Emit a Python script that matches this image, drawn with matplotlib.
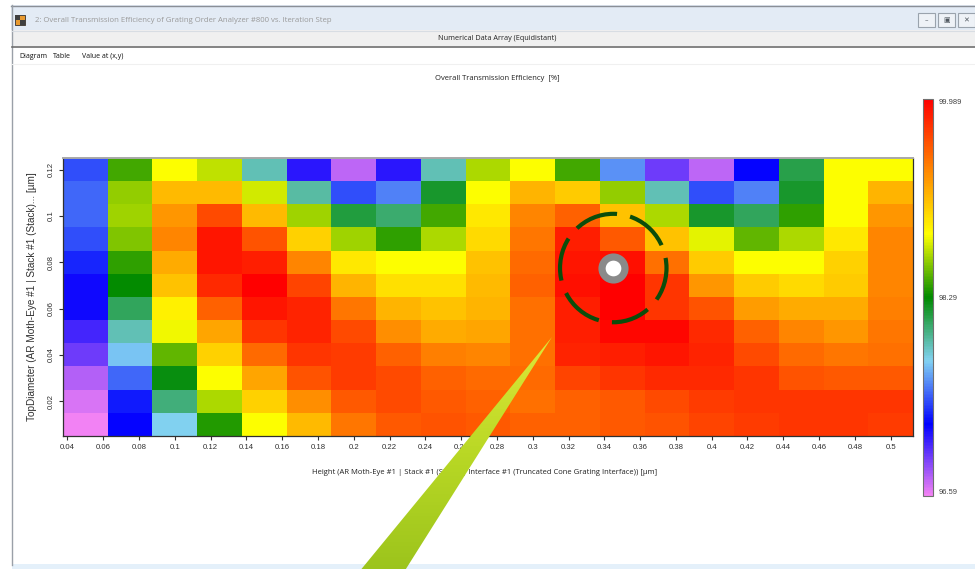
#!/usr/bin/env python3

import numpy as np
import matplotlib
matplotlib.use("Agg")
import matplotlib.pyplot as plt
from matplotlib import font_manager
from matplotlib.colors import LinearSegmentedColormap, Normalize
from matplotlib.patches import Rectangle, Polygon, Ellipse


# -------------------------------------------------------
# Data
# -------------------------------------------------------

height_um = [0.05, 0.075, 0.1, 0.125, 0.15, 0.175, 0.2, 0.225, 0.25, 0.275,
             0.3, 0.325, 0.35, 0.375, 0.4, 0.425, 0.45, 0.475, 0.5]

top_diameter_um = [0.12, 0.11, 0.10, 0.09, 0.08, 0.07,
                   0.06, 0.05, 0.04, 0.03, 0.02, 0.01]

# overall transmission efficiency [%], one row per top diameter (top -> bottom)
efficiency = [
    [97.41, 98.43, 98.83, 98.70, 97.88, 97.10, 96.73, 97.10, 97.88, 98.66, 98.83, 98.43, 97.58, 96.93, 96.73, 97.20, 98.12, 98.83, 98.83],
    [97.47, 98.60, 99.14, 99.14, 98.73, 97.92, 97.41, 97.54, 98.19, 98.83, 99.17, 99.07, 98.60, 97.88, 97.41, 97.54, 98.19, 98.83, 99.17],
    [97.47, 98.63, 99.31, 99.65, 99.14, 98.63, 98.15, 98.05, 98.43, 98.94, 99.38, 99.55, 99.11, 98.66, 98.19, 98.09, 98.39, 98.83, 99.31],
    [97.41, 98.56, 99.38, 99.89, 99.61, 99.04, 98.63, 98.39, 98.66, 99.00, 99.45, 99.85, 99.58, 99.11, 98.77, 98.49, 98.66, 98.94, 99.38],
    [97.30, 98.39, 99.21, 99.89, 99.85, 99.38, 98.94, 98.83, 98.83, 99.11, 99.51, 99.89, 99.92, 99.48, 99.07, 98.83, 98.83, 99.04, 99.38],
    [97.17, 98.29, 99.11, 99.79, 99.99, 99.68, 99.17, 98.97, 98.97, 99.14, 99.55, 99.92, 99.99, 99.75, 99.31, 99.07, 99.00, 99.07, 99.38],
    [97.17, 98.09, 98.90, 99.55, 99.89, 99.82, 99.45, 99.17, 99.11, 99.17, 99.48, 99.85, 99.99, 99.75, 99.61, 99.28, 99.21, 99.21, 99.41],
    [97.03, 97.88, 98.80, 99.24, 99.75, 99.82, 99.65, 99.34, 99.21, 99.24, 99.48, 99.85, 99.95, 99.95, 99.79, 99.55, 99.38, 99.31, 99.45],
    [96.93, 97.71, 98.49, 99.04, 99.51, 99.75, 99.72, 99.55, 99.41, 99.38, 99.48, 99.82, 99.85, 99.89, 99.82, 99.65, 99.51, 99.45, 99.48],
    [96.76, 97.47, 98.26, 98.83, 99.24, 99.61, 99.72, 99.65, 99.55, 99.51, 99.51, 99.68, 99.75, 99.79, 99.79, 99.75, 99.61, 99.58, 99.58],
    [96.66, 97.27, 98.02, 98.66, 99.04, 99.34, 99.58, 99.65, 99.58, 99.55, 99.48, 99.55, 99.58, 99.65, 99.72, 99.75, 99.75, 99.75, 99.75],
    [96.59, 97.20, 97.75, 98.36, 98.83, 99.14, 99.45, 99.58, 99.61, 99.58, 99.55, 99.55, 99.58, 99.61, 99.68, 99.72, 99.75, 99.75, 99.72],
]

vmin = 96.59
vmax = 99.989

x_ticks = [0.04, 0.06, 0.08, 0.1, 0.12, 0.14, 0.16, 0.18, 0.2, 0.22, 0.24, 0.26,
           0.28, 0.3, 0.32, 0.34, 0.36, 0.38, 0.4, 0.42, 0.44, 0.46, 0.48, 0.5]
y_ticks = [0.02, 0.04, 0.06, 0.08, 0.1, 0.12]
cbar_ticks = [96.59, 98.29, 99.989]

# highlighted optimum (annotation)
highlight = (0.345, 0.0775)


# -------------------------------------------------------
# Fonts / helpers
# -------------------------------------------------------

names = {f.name for f in font_manager.fontManager.ttflist}
narrow = "Liberation Sans Narrow" if "Liberation Sans Narrow" in names else "Liberation Sans"
ui_font = "Open Sans"

plt.rcParams["font.family"] = ["Liberation Sans", "DejaVu Sans"]

W, H = 975, 569


def fx(px):
    return px / W


def fy(py):
    return 1 - py / H


# colour map taken from the colour bar
cmap = LinearSegmentedColormap.from_list("vl", [
    (0.00, "#f282f4"),
    (0.18, "#0000ff"),
    (0.34, "#82d2f2"),
    (0.50, "#008a00"),
    (0.66, "#ffff00"),
    (0.83, "#ff8000"),
    (1.00, "#ff0000"),
])
norm = Normalize(vmin=vmin, vmax=vmax)


fig = plt.figure(figsize=(W / 100, H / 100), dpi=100)
fig.patch.set_facecolor("white")

# -------------------------------------------------------
# Window chrome
# -------------------------------------------------------

bg = fig.add_axes([0, 0, 1, 1], zorder=0)
bg.set_xlim(0, W)
bg.set_ylim(H, 0)
bg.axis("off")

# title bar
bg.add_patch(Rectangle((11, 5), W - 11, 25, facecolor="#e3ebf5", edgecolor="none"))
bg.plot([11, W], [5.5, 5.5], color="#8a8f96", lw=1)
bg.plot([11.5, 11.5], [5, 565], color="#9aa0a8", lw=1)
bg.add_patch(Rectangle((15, 15), 10, 10, facecolor="#e89a30", edgecolor="#303030", lw=0.6))
bg.add_patch(Rectangle((15, 15), 5, 5, facecolor="#404040", edgecolor="none"))
bg.add_patch(Rectangle((20, 20), 5, 5, facecolor="#404040", edgecolor="none"))
bg.text(35, 20, "2: Overall Transmission Efficiency of Grating Order Analyzer #800 vs. Iteration Step",
        fontsize=5.6, color="#9a9a9a", va="center", family=ui_font)

for bx, glyph in [(918, "\u2013"), (938, "\u25a3"), (958, "\u2715")]:
    bg.add_patch(Rectangle((bx, 13), 17, 14, facecolor="#eef2f7", edgecolor="#9aa3ad", lw=0.8))
    bg.text(bx + 8.5, 20, glyph, fontsize=5, color="#505860", ha="center", va="center",
            family="DejaVu Sans")

# sub header
bg.add_patch(Rectangle((12, 30), W - 12, 16, facecolor="#f0f0f0", edgecolor="none"))
bg.plot([12, W], [30.5, 30.5], color="#d8dde3", lw=0.8)
bg.plot([12, W], [46.5, 46.5], color="#6e6e6e", lw=1.2)
bg.text(497, 38.5, "Numerical Data Array (Equidistant)", fontsize=5.2, color="#202020",
        ha="center", va="center", family=ui_font)

# tabs
bg.text(19, 56, "Diagram", fontsize=5, color="#101010", va="center", family=ui_font)
bg.text(53, 56.5, "Table", fontsize=5, color="#101010", va="center", family=ui_font)
bg.text(82, 56.5, "Value at (x,y)", fontsize=5, color="#101010", va="center", family=ui_font)
bg.plot([12, W], [63.5, 63.5], color="#f0f0f0", lw=0.8)

bg.text(497, 78, "Overall Transmission Efficiency  [%]", fontsize=5.5, color="#202020",
        ha="center", va="center", family=ui_font)

# bottom strip
bg.add_patch(Rectangle((12, 564), W - 12, 6, facecolor="#e4f0fa", edgecolor="none"))


# -------------------------------------------------------
# Heat map
# -------------------------------------------------------

ax_l, ax_r, ax_t, ax_b = 63, 913, 158, 436
ax = fig.add_axes([fx(ax_l), fy(ax_b), (ax_r - ax_l) / W, (ax_b - ax_t) / H], zorder=2)

mesh = ax.pcolormesh(height_um, top_diameter_um, np.array(efficiency),
                     cmap=cmap, norm=norm, shading="nearest")

ax.set_xlim(0.0375, 0.5125)
ax.set_ylim(0.005, 0.125)

ax.set_xticks(x_ticks)
ax.set_xticklabels([f"{v:g}" for v in x_ticks], fontsize=5.6, family=narrow, color="#303030")
ax.set_yticks(y_ticks)
ax.set_yticklabels([f"{v:g}" for v in y_ticks], fontsize=5.6, family=narrow,
                   color="#303030", rotation=90, va="center")
ax.tick_params(axis="both", direction="out", length=3, width=0.8, color="#303030", pad=3)

for side in ["left", "bottom", "right"]:
    ax.spines[side].set_color("#303030")
    ax.spines[side].set_linewidth(0.9)
ax.spines["top"].set_color("#a8a8a8")
ax.spines["top"].set_linewidth(1.4)

ax.set_xlabel("Height (AR Moth-Eye #1 | Stack #1 (Stack) | Interface #1 (Truncated Cone Grating Interface)) [\u00b5m]",
              fontsize=5.5, family=ui_font, color="#202020")
ax.xaxis.set_label_coords(0.4965, -(469 - ax_b) / (ax_b - ax_t))
ax.set_ylabel("TopDiameter (AR Moth-Eye #1 | Stack #1 (Stack)... [\u00b5m]",
              fontsize=7.2, color="#303030")
ax.yaxis.set_label_coords(-(ax_l - 37) / (ax_r - ax_l), 0.5)

# annotation: dashed circle and marker at the optimum
ring = Ellipse(highlight, width=0.0595, height=0.0468, fill=False,
               edgecolor="#0b4d0b", lw=3.0, clip_on=False, zorder=5)
ring.set_linestyle((1.5, (10.5, 3.2)))
ax.add_patch(ring)
ax.plot(*highlight, marker="o", ms=16.5, mfc="white", mec="#8a8a8a", mew=5.2,
        clip_on=False, zorder=6)


# -------------------------------------------------------
# Colour bar
# -------------------------------------------------------

cax = fig.add_axes([fx(923), fy(496), 10 / W, (496 - 99) / H], zorder=2)
cb = fig.colorbar(mesh, cax=cax, ticks=cbar_ticks)
cb.ax.set_yticklabels(["96.59", "98.29", "99.989"], fontsize=5.4, family=narrow, color="#404040")
cb.ax.tick_params(length=0, pad=4)
cb.outline.set_edgecolor("#707070")
cb.outline.set_linewidth(0.8)
cb.ax.get_yticklabels()[0].set_va("bottom")
cb.ax.get_yticklabels()[-1].set_va("top")


# -------------------------------------------------------
# Pointer wedge drawn over everything
# -------------------------------------------------------

fg = fig.add_axes([0, 0, 1, 1], zorder=10)
fg.set_xlim(0, W)
fg.set_ylim(H, 0)
fg.axis("off")
fg.patch.set_alpha(0)

wedge = Polygon([(552, 337), (359, 572), (404, 572)], closed=True,
                facecolor="none", edgecolor="none")
fg.add_patch(wedge)
grad = np.linspace(0, 1, 64).reshape(-1, 1)
wedge_cmap = LinearSegmentedColormap.from_list("wedge", ["#dfe838", "#b9d825", "#9cc41c"])
img = fg.imshow(grad, cmap=wedge_cmap, extent=(355, 555, 572, 335), aspect="auto", zorder=3)
img.set_clip_path(wedge)
fg.set_xlim(0, W)
fg.set_ylim(H, 0)

fig.savefig("out.png", dpi=100)
